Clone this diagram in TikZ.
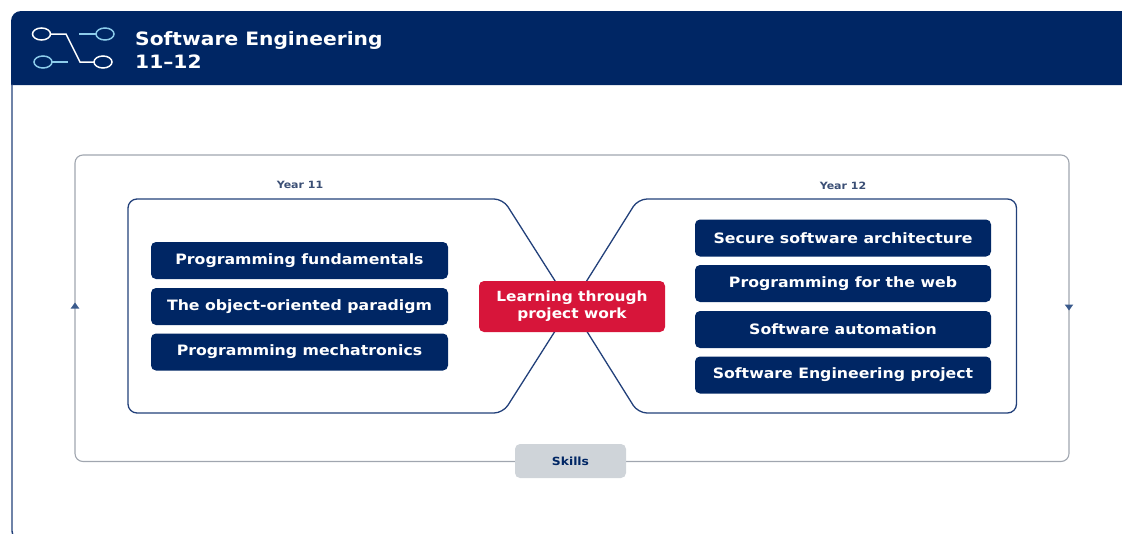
\documentclass[tikz,border=0pt]{standalone}
\usepackage{fontspec}
\setmainfont{DejaVu Sans}[FakeStretch=1.1]
\definecolor{navy}{HTML}{002664}
\definecolor{edge}{HTML}{22407A}
\definecolor{crimson}{HTML}{D7153A}
\definecolor{lblue}{HTML}{8CCBEA}
\definecolor{framegray}{HTML}{A0A6AF}
\definecolor{skillfill}{HTML}{CFD4D9}
\definecolor{labelc}{HTML}{3B4F75}
\definecolor{arrowc}{HTML}{3A5A8C}
\begin{document}
\begin{tikzpicture}[x=1pt,y=-1pt,
  topic/.style={fill=navy, rounded corners=5pt, minimum height=37pt, inner sep=0pt,
    text=white, font=\bfseries\fontsize{14.3}{16}\selectfont},
  lefttopic/.style={topic, minimum width=297pt},
  righttopic/.style={topic, minimum width=296pt},
  yearlabel/.style={text=labelc, font=\bfseries\fontsize{10}{12}\selectfont, inner sep=0pt},
  centerbox/.style={fill=crimson, rounded corners=5pt, minimum width=186pt, minimum height=51pt,
    inner sep=0pt, text=white, align=center, font=\bfseries\fontsize{14}{17}\selectfont},
  skillbox/.style={fill=skillfill, rounded corners=5pt, minimum width=111pt, minimum height=34pt,
    inner sep=0pt, text=navy, font=\bfseries\fontsize{11.2}{13}\selectfont},
  titletext/.style={text=white, font=\bfseries\fontsize{18.4}{22}\selectfont, inner sep=0pt, anchor=base west},
  yearshape/.style={draw=edge, line width=1.3pt, rounded corners=9pt, line join=round},
  iconline/.style={line width=1.5pt}
]
\useasboundingbox (0,0) rectangle (1122,533);
% header and panel
\fill[navy] (11,85) [rounded corners=10pt] -- (11,11) -- (1135,11) [sharp corners] -- (1135,85) -- cycle;
\draw[edge, line width=1.4pt, rounded corners=9pt] (12,84) -- (12,540) -- (40,540);
% icon
\draw[white, iconline] (41.5,34) ellipse [x radius=9pt, y radius=6pt];
\draw[white, iconline] (103,62) ellipse [x radius=9pt, y radius=6pt];
\draw[lblue, iconline] (105,34) ellipse [x radius=9pt, y radius=6pt];
\draw[lblue, iconline] (43,62) ellipse [x radius=9pt, y radius=6pt];
\draw[white, iconline] (50.5,34) -- (66,34) -- (80,62) -- (94,62);
\draw[lblue, iconline] (79,34) -- (96,34);
\draw[lblue, iconline] (52,62) -- (68,62);
\node[titletext] (t1) at (135,45) {Software Engineering};
\node[titletext] (t2) at (135,68) {11–12};
% outer frame
\draw[framegray, line width=1.1pt, rounded corners=8pt] (75,155) rectangle (1069,461.5);
\fill[arrowc] (75,302.5) -- (79.3,308.5) -- (70.7,308.5) -- cycle;
\fill[arrowc] (1069,310.5) -- (1073.3,304.5) -- (1064.7,304.5) -- cycle;
% year shapes
\draw[yearshape] (571,306) -- (503,199) -- (128,199) -- (128,413) -- (503,413) -- cycle;
\draw[yearshape] (571,306) -- (638,199) -- (1016.5,199) -- (1016.5,413) -- (638,413) -- cycle;
\node[yearlabel] (y11) at (300,185) {Year 11};
\node[yearlabel] (y12) at (843,186) {Year 12};
% left topics
\node[lefttopic] (l1) at (299.5,260.5) {Programming fundamentals};
\node[lefttopic] (l2) at (299.5,306.5) {The object-oriented paradigm};
\node[lefttopic] (l3) at (299.5,352) {Programming mechatronics};
% right topics
\node[righttopic] (r1) at (843,238) {Secure software architecture};
\node[righttopic] (r2) at (843,283.5) {Programming for the web};
\node[righttopic] (r3) at (843,329.5) {Software automation};
\node[righttopic] (r4) at (843,375) {Software Engineering project};
% centre
\node[centerbox] (c) at (572,306.5) {Learning through\\project work};
\node[skillbox] (s) at (570.5,461) {Skills};
\end{tikzpicture}
\end{document}
